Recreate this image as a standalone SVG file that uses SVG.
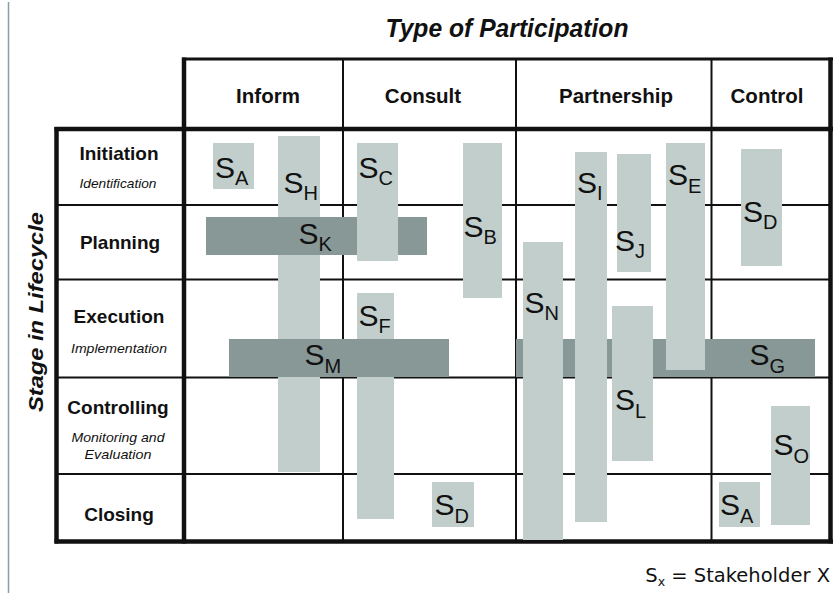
<svg xmlns="http://www.w3.org/2000/svg" width="833" height="593" viewBox="0 0 833 593">
<style>
text{font-family:"Liberation Sans",Arial,sans-serif;fill:#111}
.title{font-size:26px;font-weight:bold;font-style:italic}
.col{font-size:20.5px;font-weight:bold;text-anchor:middle}
.row{font-size:19px;font-weight:bold;text-anchor:middle}
.rsub{font-size:13px;font-style:italic;text-anchor:middle}
.thin{stroke:#111;stroke-width:2;fill:none}
.thick{stroke:#111;stroke-width:4.5;fill:none}
.lt{fill:#c2cecb}
.dk{fill:#889896}
.s{font-size:30px}
.sub{font-size:20px}
.leg{font-family:"DejaVu Sans",Verdana,sans-serif;font-size:19.5px;text-anchor:end}
</style>
<line x1="8.5" y1="2" x2="8.5" y2="593" stroke="#8d9da3" stroke-width="1.5"/>
<text class="title" x="507" y="37" text-anchor="middle" textLength="243" lengthAdjust="spacingAndGlyphs">Type of Participation</text>
<g id="grid">
<line class="thin" x1="343" y1="59" x2="343" y2="541"/>
<line class="thin" x1="516" y1="59" x2="516" y2="541"/>
<line class="thin" x1="711.5" y1="59" x2="711.5" y2="541"/>
<line class="thin" x1="56" y1="205" x2="830" y2="205"/>
<line class="thin" x1="56" y1="279.5" x2="830" y2="279.5"/>
<line class="thin" x1="56" y1="377.5" x2="830" y2="377.5"/>
<line class="thin" x1="56" y1="474" x2="830" y2="474"/>
<line x1="182" y1="59" x2="833" y2="59" stroke="#111" stroke-width="3"/>
<line class="thick" x1="54.5" y1="129" x2="833" y2="129"/>
<line class="thick" x1="184" y1="57.5" x2="184" y2="543.5"/>
<line class="thick" x1="56.5" y1="127" x2="56.5" y2="543.5"/>
<line class="thick" x1="830.5" y1="57.5" x2="830.5" y2="543.5"/>
<line class="thick" x1="54.5" y1="541.5" x2="833" y2="541.5"/>
</g>
<g id="headers">
<text class="col" x="268" y="103">Inform</text>
<text class="col" x="423" y="103">Consult</text>
<text class="col" x="616" y="103">Partnership</text>
<text class="col" x="767" y="103">Control</text>
</g>
<g id="rows">
<text class="row" x="119" y="160">Initiation</text>
<text class="rsub" x="118" y="188" textLength="77" lengthAdjust="spacingAndGlyphs">Identification</text>
<text class="row" x="120" y="249">Planning</text>
<text class="row" x="119" y="323">Execution</text>
<text class="rsub" x="119" y="353" textLength="96" lengthAdjust="spacingAndGlyphs">Implementation</text>
<text class="row" x="118" y="414">Controlling</text>
<text class="rsub" x="118" y="442" textLength="93" lengthAdjust="spacingAndGlyphs">Monitoring and</text>
<text class="rsub" x="118" y="459" textLength="67" lengthAdjust="spacingAndGlyphs">Evaluation</text>
<text class="row" x="119" y="521">Closing</text>
</g>
<text transform="translate(43,312) rotate(-90)" text-anchor="middle" font-size="21" font-weight="bold" font-style="italic" textLength="200" lengthAdjust="spacingAndGlyphs">Stage in Lifecycle</text>
<g id="SA1"><rect class="lt" x="213" y="143" width="41" height="46"/><text class="s" x="215" y="178">S<tspan class="sub" dy="7">A</tspan></text></g>
<g id="SH"><rect class="lt" x="278" y="136" width="42" height="336"/><text class="s" x="283.5" y="193">S<tspan class="sub" dy="7">H</tspan></text></g>
<g id="SK"><rect class="dk" x="206" y="217" width="221" height="38"/><text class="s" x="298.5" y="244">S<tspan class="sub" dy="7">K</tspan></text></g>
<g id="SC"><rect class="lt" x="357" y="143" width="41" height="118"/><text class="s" x="358.5" y="178">S<tspan class="sub" dy="7">C</tspan></text></g>
<g id="SF"><rect class="lt" x="357" y="293" width="37" height="226"/><text class="s" x="358.5" y="326">S<tspan class="sub" dy="7">F</tspan></text></g>
<g id="SM"><rect class="dk" x="229" y="339" width="220" height="38"/><text class="s" x="304.5" y="365">S<tspan class="sub" dy="8">M</tspan></text></g>
<g id="SB"><rect class="lt" x="463" y="143" width="39" height="155"/><text class="s" x="463.5" y="237">S<tspan class="sub" dy="7">B</tspan></text></g>
<g id="SD2"><rect class="lt" x="432" y="482" width="42" height="45"/><text class="s" x="434.5" y="515">S<tspan class="sub" dy="8">D</tspan></text></g>
<g id="SG"><rect class="dk" x="516" y="339" width="299" height="38"/><text class="s" x="749.5" y="365">S<tspan class="sub" dy="8">G</tspan></text></g>
<g id="SN"><rect class="lt" x="523" y="242" width="40" height="298"/><text class="s" x="524.5" y="313">S<tspan class="sub" dy="7">N</tspan></text></g>
<g id="SI"><rect class="lt" x="575" y="152" width="32" height="370"/><text class="s" x="577" y="193">S<tspan class="sub" dy="7">I</tspan></text></g>
<g id="SJ"><rect class="lt" x="617" y="154" width="34" height="118"/><text class="s" x="615" y="251">S<tspan class="sub" dy="7">J</tspan></text></g>
<g id="SL"><rect class="lt" x="612" y="306" width="41" height="155"/><text class="s" x="615" y="410">S<tspan class="sub" dy="8">L</tspan></text></g>
<g id="SE"><rect class="lt" x="666" y="143" width="39" height="227"/><text class="s" x="668" y="185">S<tspan class="sub" dy="8">E</tspan></text></g>
<g id="SD1"><rect class="lt" x="741" y="149" width="41" height="117"/><text class="s" x="743" y="222">S<tspan class="sub" dy="7">D</tspan></text></g>
<g id="SO"><rect class="lt" x="771" y="406" width="39" height="119"/><text class="s" x="773.5" y="455">S<tspan class="sub" dy="8">O</tspan></text></g>
<g id="SA2"><rect class="lt" x="719" y="482" width="41" height="45"/><text class="s" x="720" y="515">S<tspan class="sub" dy="8">A</tspan></text></g>
<g id="connectors"></g>
<text class="leg" x="830" y="582">S<tspan font-size="12.5" dy="4">x</tspan><tspan dy="-4"> = Stakeholder X</tspan></text>
</svg>
